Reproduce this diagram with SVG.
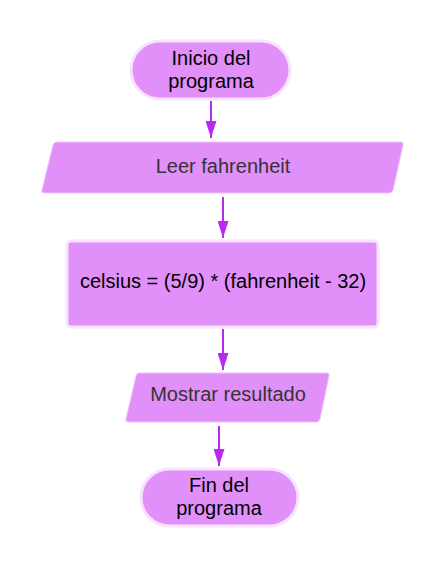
<svg xmlns="http://www.w3.org/2000/svg" width="446" height="568" viewBox="0 0 446 568">
<defs>
<style>
.n{fill:#E190FA;stroke:#F7E3FE;stroke-width:3}
.p{fill:#E190FA;stroke:#EFC2FC;stroke-width:1}
.t{font-family:"Liberation Sans",Arial,sans-serif;font-size:20px;text-anchor:middle}
.k{fill:#000}
.g{fill:#333}
.c{stroke:#B82AF0;stroke-width:2;fill:none}
</style>
<marker id="a" viewBox="0 0 17 11" refX="17" refY="5.5" markerWidth="8.5" markerHeight="5.5" markerUnits="strokeWidth" orient="auto">
<path d="M0,0 L17,5.5 L0,11 z" fill="#B82AF0"/>
</marker>
</defs>
<rect width="446" height="568" fill="#fff"/>
<g id="connectors">
<line class="c" x1="211" y1="101" x2="211" y2="138" marker-end="url(#a)"/>
<line class="c" x1="223" y1="197" x2="223" y2="238" marker-end="url(#a)"/>
<line class="c" x1="223" y1="329" x2="223" y2="370" marker-end="url(#a)"/>
<line class="c" x1="219" y1="426" x2="219" y2="466" marker-end="url(#a)"/>
</g>
<g id="start">
<rect class="n" x="131" y="41" width="159" height="58" rx="29"/>
<text class="t k" x="211" y="65">Inicio del</text>
<text class="t k" x="211" y="88">programa</text>
</g>
<g id="input">
<path class="p" d="M57,142 L401,142 Q404,142 403,145 L393,190 Q392,193 389,193 L44,193 Q41,193 42,190 L53,145 Q54,142 57,142 z"/>
<text class="t g" x="223" y="173">Leer fahrenheit</text>
</g>
<g id="process">
<rect class="n" x="67" y="241" width="311" height="86" rx="4"/>
<text class="t k" x="223" y="288" font-size="19">celsius = (5/9) * (fahrenheit - 32)</text>
</g>
<g id="output">
<path class="p" d="M139,373 L327,373 Q330,373 329,376 L320,419 Q319,422 316,422 L128,422 Q125,422 126,419 L136,376 Q137,373 139,373 z"/>
<text class="t g" x="228" y="401">Mostrar resultado</text>
</g>
<g id="end">
<rect class="n" x="141" y="469" width="157" height="57" rx="28.5"/>
<text class="t k" x="219" y="492">Fin del</text>
<text class="t k" x="219" y="515">programa</text>
</g>
</svg>
